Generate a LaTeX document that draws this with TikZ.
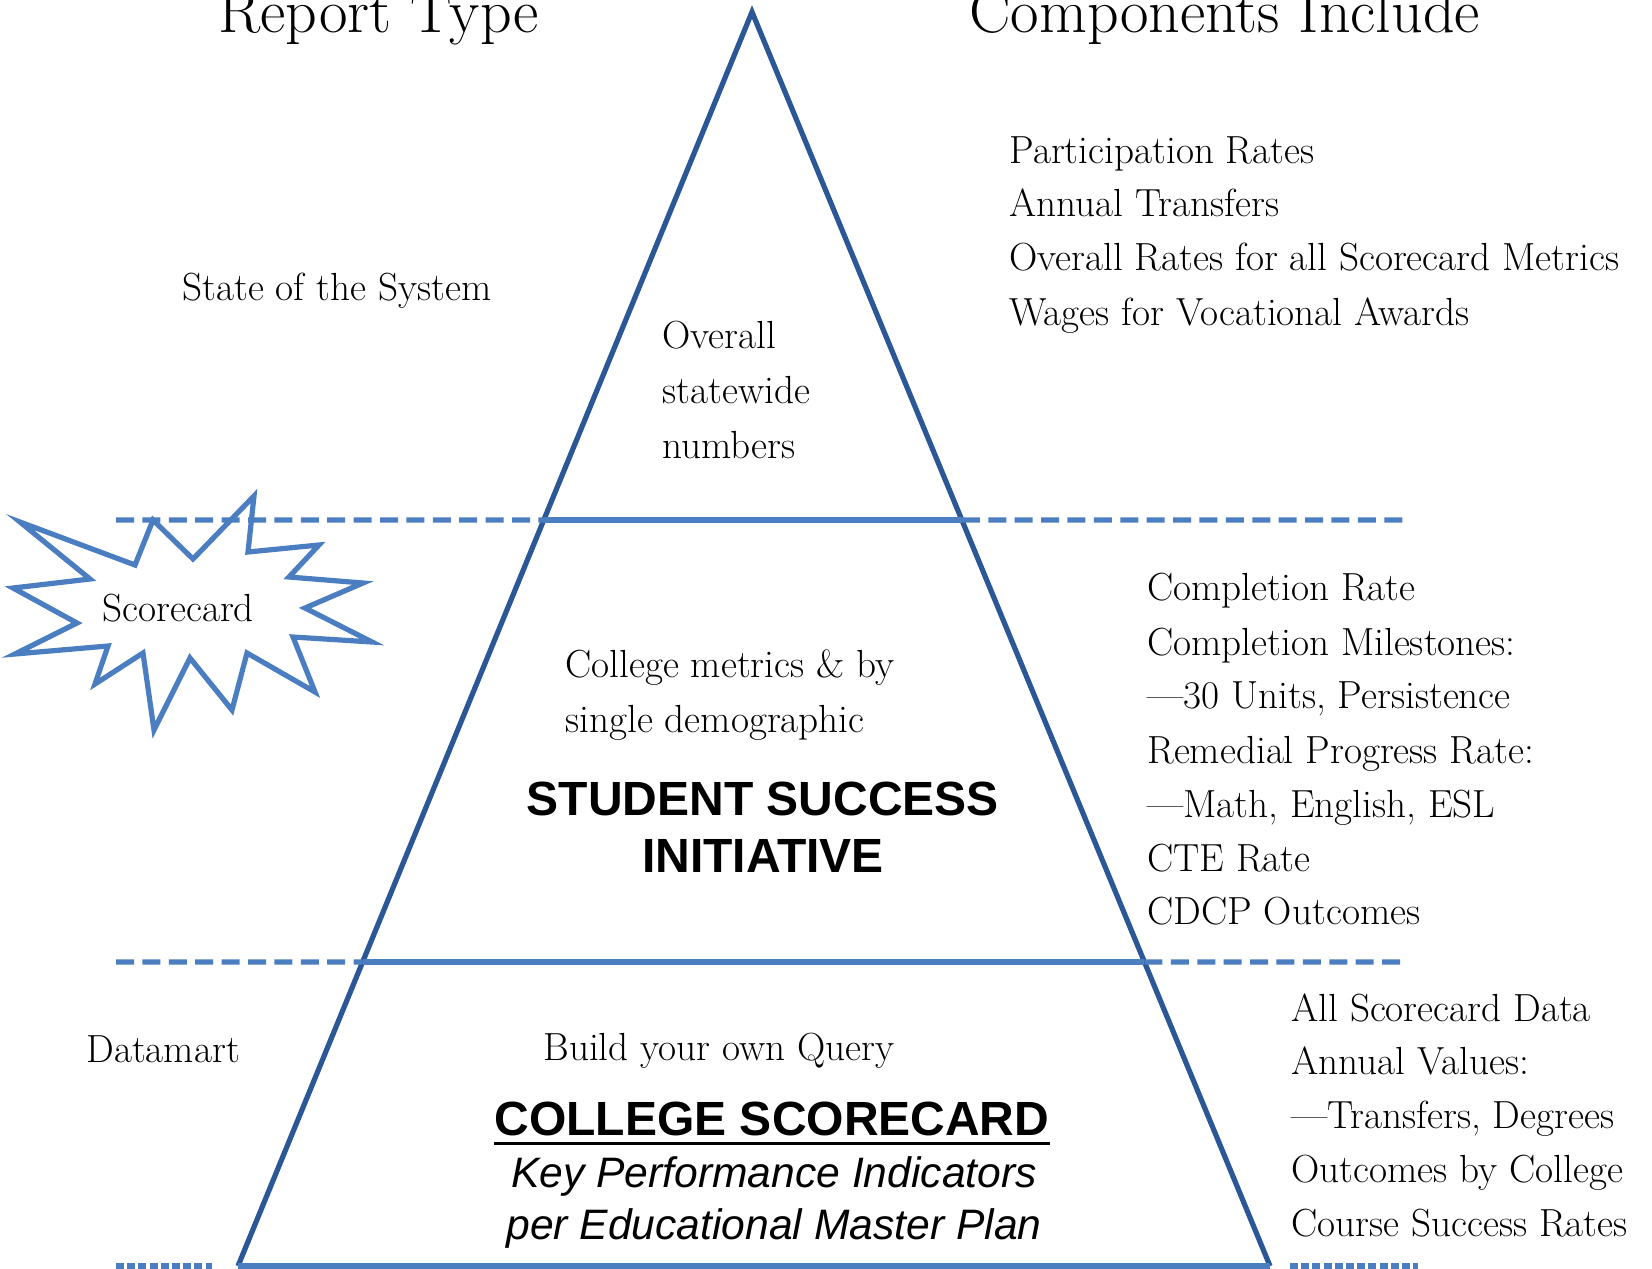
\documentclass[tikz,border=0pt]{standalone}
\usepackage{fontspec}
\newfontfamily\arialf{Liberation Sans}
\usetikzlibrary{calc}
\definecolor{tri}{HTML}{2B5797}
\definecolor{lineb}{HTML}{4A7EC0}
\tikzset{
  side/.style={draw=tri, line width=2.6pt, line join=miter},
  level/.style={draw=lineb, line width=2.6pt},
  dashlevel/.style={draw=lineb, line width=2.6pt, dash pattern=on 9pt off 4.2pt},
  body/.style={anchor=base west, inner sep=0pt, font=\fontsize{19.6}{23}\selectfont\addfontfeatures{LetterSpace=2}},
  head/.style={anchor=base west, inner sep=0pt, font=\fontsize{31}{35}\selectfont},
  big/.style={anchor=base, inner sep=0pt, font=\arialf\bfseries\fontsize{24}{28}\selectfont},
  ital/.style={anchor=base, inner sep=0pt, font=\arialf\itshape\fontsize{21.3}{25}\selectfont},
}
\begin{document}
\begin{tikzpicture}[x=0.5pt,y=-0.5pt]
\useasboundingbox (0,0) rectangle (1652,1268);
\clip (0,0) rectangle (1652,1268);
% triangle corners
\coordinate (apex) at (752,12);
\coordinate (bl) at (238,1266);
\coordinate (br) at (1270,1266);
\coordinate (l1) at ($(apex)!0.4051!(bl)$);
\coordinate (r1) at ($(apex)!0.4051!(br)$);
\coordinate (l2) at ($(apex)!0.7576!(bl)$);
\coordinate (r2) at ($(apex)!0.7576!(br)$);
\coordinate (d1a) at (116,520);
\coordinate (d1b) at (1404,520);
\coordinate (d2a) at (116,962);
\coordinate (d2b) at (1404,962);
\coordinate (d3a) at (116,1266);
\coordinate (d3b) at (212,1266);
\coordinate (d3c) at (1290,1266);
\coordinate (d3d) at (1418,1266);
% starburst
\draw[draw=lineb, fill=white, line width=2.6pt, line join=miter]
  (20,522) -- (135,565) -- (153,520) -- (193,559) -- (254,496) -- (248,552)
  -- (319,545) -- (289,577) -- (363,583) -- (305,608) -- (372,642)
  -- (293,637) -- (315,692) -- (247,653) -- (232,710) -- (190,658)
  -- (154,730) -- (143,653) -- (95,684) -- (108,646) -- (15,654)
  -- (77,623) -- (13,588) -- (90,579) -- cycle;
% triangle sides
\draw[side] (bl) -- (apex) -- (br);
% level lines
\draw[level] (l1) -- (r1);
\draw[level] (l2) -- (r2);
\draw[level] (bl) -- (br);
\draw[dashlevel] (d1a) -- (l1);
\draw[dashlevel] (r1) -- (d1b);
\draw[dashlevel] (d2a) -- (l2);
\draw[dashlevel] (r2) -- (d2b);
\draw[draw=lineb, line width=2.6pt, dash pattern=on 4pt off 1.6pt] (d3a) -- (d3b);
\draw[draw=lineb, line width=2.6pt, dash pattern=on 4pt off 1.6pt] (d3c) -- (d3d);
% headers
\node[head] (hrep) at (218,33) {Report Type};
\node[head, font=\fontsize{31}{35}\selectfont\addfontfeatures{LetterSpace=1.5}] (hcomp) at (969,33) {Components Include};
% left column
\node[body] (sys) at (182,300) {State of the System};
\node[body] (score) at (102,621) {Scorecard};
\node[body] (dmart) at (86,1062) {Datamart};
% inside triangle
\node[body] (ov1) at (662,348) {Overall};
\node[body] (ov2) at (662,403) {statewide};
\node[body] (ov3) at (662,458) {numbers};
\node[body] (cm1) at (565,677) {College metrics \& by};
\node[body] (cm2) at (565,732) {single demographic};
\node[big] (ssi1) at (763,815) {STUDENT SUCCESS};
\node[big] (ssi2) at (763,872) {INITIATIVE};
\node[body] (byo) at (543,1060) {Build your own Query};
\node[big] (cs) at (772,1135) {COLLEGE SCORECARD};
\draw[line width=1.5pt] ([yshift=-4pt]cs.base west) -- ([yshift=-4pt]cs.base east);
\node[ital] (kpi) at (774,1187) {Key Performance Indicators};
\node[ital] (emp) at (774,1239) {per Educational Master Plan};
% right column 1
\node[body] (r1a) at (1009,163) {Participation Rates};
\node[body] (r1b) at (1009,216) {Annual Transfers};
\node[body] (r1c) at (1009,270) {Overall Rates for all Scorecard Metrics};
\node[body] (r1d) at (1009,325) {Wages for Vocational Awards};
% right column 2
\node[body] (r2a) at (1147,600) {Completion Rate};
\node[body] (r2b) at (1147,655) {Completion Milestones:};
\node[body] (r2c) at (1147,708) {---30 Units, Persistence};
\node[body] (r2d) at (1147,763) {Remedial Progress Rate:};
\node[body] (r2e) at (1147,817) {---Math, English, ESL};
\node[body] (r2f) at (1147,871) {CTE Rate};
\node[body] (r2g) at (1147,924) {CDCP Outcomes};
% right column 3
\node[body] (r3a) at (1291,1021) {All Scorecard Data};
\node[body] (r3b) at (1291,1074) {Annual Values:};
\node[body] (r3c) at (1291,1128) {---Transfers, Degrees};
\node[body] (r3d) at (1291,1182) {Outcomes by College};
\node[body] (r3e) at (1291,1236) {Course Success Rates};
\end{tikzpicture}
\end{document}
